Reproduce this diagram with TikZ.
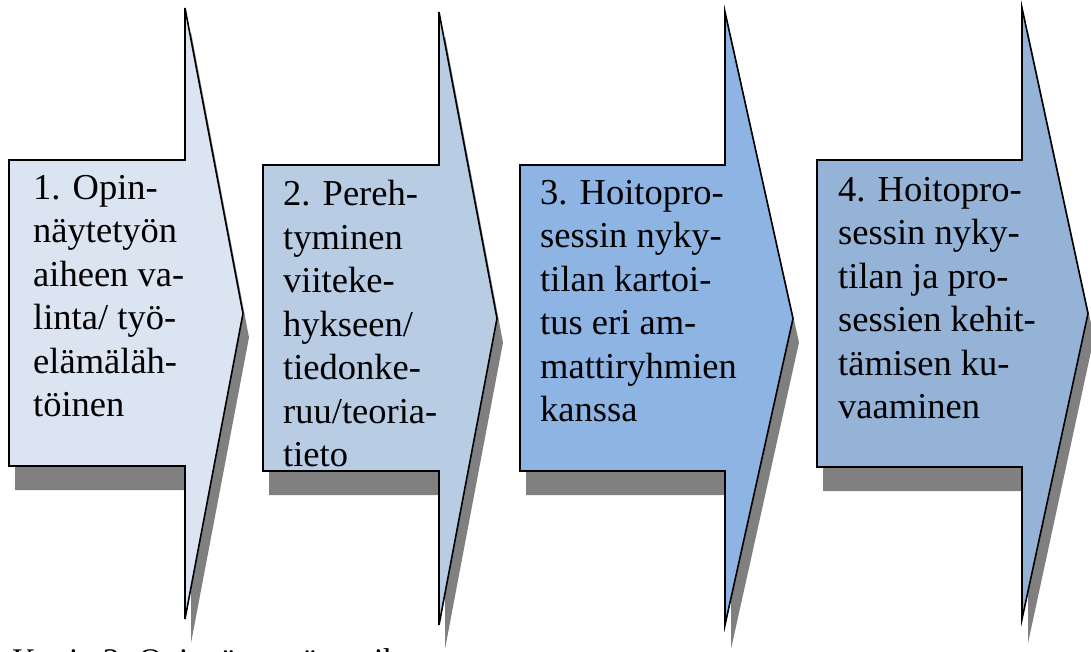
\documentclass[tikz,border=0pt]{standalone}
\usepackage{fontspec}
\setmainfont{Liberation Serif}
\usepackage{tikz}
\definecolor{phaseone}{HTML}{DBE5F1}
\definecolor{phasetwo}{HTML}{B8CCE4}
\definecolor{phasethree}{HTML}{8DB4E2}
\definecolor{phasefour}{HTML}{95B3D7}
\definecolor{shadowgrey}{HTML}{808080}

\tikzset{
  phaseshadow/.style={fill=shadowgrey,draw=none,shift={(6,24)}},
  phasearrow/.style={draw=black,line width=1.6pt,line join=miter},
  phasetext/.style={anchor=north west,inner sep=0pt,align=left,font=\fontsize{36.5}{43.5}\selectfont},
}

\begin{document}
\begin{tikzpicture}[x=1pt,y=-1pt]
\clip (0,0) rectangle (1091,652);
% shadows first
\fill[phaseshadow] (9,160) -- (185,160) -- (185,8) -- (243,313.5) -- (185,619) -- (185,466) -- (9,466) -- cycle;
\fill[phaseshadow] (263,165) -- (439,165) -- (439,12) -- (497,318.5) -- (439,625) -- (439,471) -- (263,471) -- cycle;
\fill[phaseshadow] (520,165) -- (725,165) -- (725,12) -- (793,318.5) -- (725,625) -- (725,471) -- (520,471) -- cycle;
\fill[phaseshadow] (817,160) -- (1022,160) -- (1022,8) -- (1088,313.5) -- (1022,619) -- (1022,467) -- (817,467) -- cycle;
% block arrows
\draw[phasearrow,fill=phaseone] (9,160) -- (185,160) -- (185,8) -- (243,313.5) -- (185,619) -- (185,466) -- (9,466) -- cycle;
\draw[phasearrow,fill=phasetwo] (263,165) -- (439,165) -- (439,12) -- (497,318.5) -- (439,625) -- (439,471) -- (263,471) -- cycle;
\draw[phasearrow,fill=phasethree] (520,165) -- (725,165) -- (725,12) -- (793,318.5) -- (725,625) -- (725,471) -- (520,471) -- cycle;
\draw[phasearrow,fill=phasefour] (817,160) -- (1022,160) -- (1022,8) -- (1088,313.5) -- (1022,619) -- (1022,467) -- (817,467) -- cycle;
% texts
\node[phasetext] (p1) at (33,175) {1. Opin-\\näytetyön\\aiheen va-\\linta/ työ-\\elämäläh-\\töinen};
\node[phasetext] (p2) at (283,180) {2. Pereh-\\tyminen\\viiteke-\\hykseen/\\tiedonke-\\ruu/teoria-\\tieto};
\node[phasetext] (p3) at (540,180) {3. Hoitopro-\\sessin nyky-\\tilan kartoi-\\tus eri am-\\mattiryhmien\\kanssa};
\node[phasetext] (p4) at (838,177) {4. Hoitopro-\\sessin nyky-\\tilan ja pro-\\sessien kehit-\\tämisen ku-\\vaaminen};
\node[anchor=base west,inner sep=0pt,font=\fontsize{33}{40}\selectfont] (caption) at (12,671) {Kuvio 3. Opinnäytetyön vaiheet};
\end{tikzpicture}
\end{document}
